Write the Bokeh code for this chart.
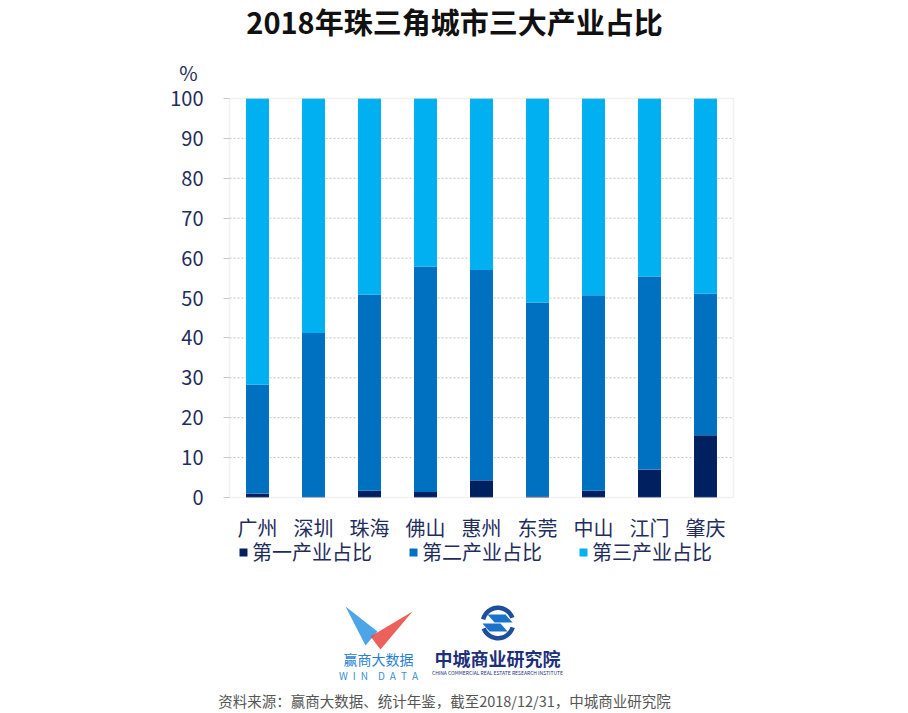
import math
from bokeh.plotting import figure
from bokeh.models import (FactorRange, Range1d, FixedTicker, Legend, LegendItem,
                          Label, ColumnDataSource, PolyAnnotation, BoxAnnotation,
                          LinearAxis, CategoricalAxis)
from bokeh.embed import file_html
from bokeh.resources import INLINE

# ---------------- data ----------------
cities = ["广州", "深圳", "珠海", "佛山", "惠州", "东莞", "中山", "江门", "肇庆"]
primary = [0.98, 0.1, 1.7, 1.4, 4.3, 0.3, 1.7, 7.0, 15.6]
secondary = [27.3, 41.1, 49.2, 56.5, 52.7, 48.6, 49.0, 48.4, 35.5]
tertiary = [71.7, 58.8, 49.1, 42.1, 43.0, 51.1, 49.3, 44.6, 48.9]
series_names = ["第一产业占比", "第二产业占比", "第三产业占比"]
y_ticks = list(range(0, 101, 10))

title_text = "2018年珠三角城市三大产业占比"
unit_text = "%"
source_text = "资料来源：赢商大数据、统计年鉴，截至2018/12/31，中城商业研究院"

# ---------------- styles / layout ----------------
FONT = "Noto Sans CJK SC"
NAVY = "#1f2d5c"
colors = ["#002060", "#0070C0", "#00B0F0"]
GRAY = "#d0d0d0"

W, H = 900, 711
CH_L, CH_R, CH_T, CH_B = 229, 733, 98, 497     # chart box on the page
NCAT = len(cities)
UX = (CH_R - CH_L) / NCAT
UY = (CH_B - CH_T) / 100.0
BL = int(round(CH_L + CH_R - W))                # symmetric frame around chart box
PAD = (CH_L - BL) / UX

def dx(X):
    return (X - CH_L) / UX
def dy(Y):
    return (CH_B - Y) / UY

src = ColumnDataSource(dict(city=cities, p1=primary, p2=secondary, p3=tertiary))

p = figure(x_range=FactorRange(*cities, range_padding=PAD, range_padding_units="absolute"),
           y_range=Range1d(dy(H), dy(0)),
           width=W, height=H, output_backend="svg", toolbar_location=None,
           x_axis_location=None, y_axis_location=None,
           min_border_left=BL, min_border_right=0, min_border_top=0,
           min_border_bottom=0)
p.background_fill_color = "white"
p.border_fill_color = "white"
p.outline_line_color = None
p.xgrid.grid_line_color = None
p.ygrid.grid_line_color = None

# dotted grid lines across the chart box, at the y ticks
gsrc = ColumnDataSource(dict(y=y_ticks[1:-1]))
p.segment(x0=0, x1=NCAT, y0="y", y1="y", source=gsrc, line_color="#c4c4c4",
          line_dash="2 2", line_width=1)

rs = p.vbar_stack(["p1", "p2", "p3"], x="city", width=0.41, source=src,
                  fill_color=colors, line_color=None)

# chart box
p.add_layout(BoxAnnotation(left=0, right=NCAT, bottom=0, top=100, fill_alpha=0,
                           line_color=GRAY, line_width=1.5))

# axes
yax = LinearAxis(fixed_location=0, bounds=(0, 100), ticker=FixedTicker(ticks=y_ticks))
yax.major_label_text_font = FONT
yax.major_label_text_font_size = "20px"
yax.major_label_text_color = NAVY
yax.axis_line_color = None
yax.major_tick_line_color = "#c8c8c8"
yax.major_tick_out = 6
yax.major_tick_in = 0
yax.minor_tick_line_color = None
yax.major_label_standoff = 20
p.add_layout(yax, "left")

xax = CategoricalAxis(fixed_location=0)
xax.major_label_text_font = FONT
xax.major_label_text_font_size = "20px"
xax.major_label_text_color = NAVY
xax.axis_line_color = None
xax.major_tick_line_color = None
xax.minor_tick_line_color = None
xax.major_label_standoff = 9
p.add_layout(xax, "below")

# legend below the chart box
items = [LegendItem(label=n, renderers=[r]) for n, r in zip(series_names, rs)]
legend = Legend(items=items, orientation="horizontal",
                location=(238 - BL, H - 566),
                glyph_width=10, glyph_height=10, label_text_font=FONT,
                label_text_font_size="20px", label_text_color=NAVY,
                label_standoff=4, spacing=36, padding=6, margin=0,
                border_line_color=None, background_fill_alpha=0,
                label_height=20)
p.add_layout(legend, "center")

def label(X, Y, text, size, color, bold=False, align="center"):
    p.add_layout(Label(x=dx(X), y=dy(Y), text=text, text_font=FONT,
                       text_font_size=size, text_color=color,
                       text_font_style="bold" if bold else "normal",
                       text_align=align, text_baseline="middle"))

def poly(pts, color, alpha=1.0):
    p.add_layout(PolyAnnotation(xs=[dx(a) for a, b in pts], ys=[dy(b) for a, b in pts],
                                fill_color=color, fill_alpha=alpha,
                                line_color=None))

# title and unit
label(454, 20, title_text, "29px", "#111111", bold=True)
label(188, 72, unit_text, "20px", NAVY)

# WIN DATA logo
poly([(345, 606), (377, 631), (365, 645)], "#3a9be6", 0.9)
poly([(412, 611), (370, 636), (380, 649)], "#e8453f", 0.85)
label(378, 658, "赢商大数据", "14px", "#2b7fd0")
label(378, 675, "W\u2002I\u2002N\u2003D\u2002A\u2002T\u2002A", "10px", "#3a8fd6")

# research institute logo
def ring(cx, cy, r0, r1, a0, a1, n=24):
    outer = [(cx + r1 * math.cos(a0 + (a1 - a0) * i / n), cy - r1 * math.sin(a0 + (a1 - a0) * i / n)) for i in range(n + 1)]
    inner = [(cx + r0 * math.cos(a1 - (a1 - a0) * i / n), cy - r0 * math.sin(a1 - (a1 - a0) * i / n)) for i in range(n + 1)]
    return outer + inner

poly(ring(497.5, 622.5, 13, 17.5, 0.35, 2.9), "#1f4e9c")
poly(ring(497.5, 622.5, 13, 17.5, 3.5, 6.0), "#1f4e9c")
poly([(487, 614), (505, 614), (512, 622), (494, 622)], "#1a73c8")
poly([(482, 623), (500, 623), (507, 631), (489, 631)], "#1a73c8")
label(497, 657, "中城商业研究院", "18px", "#1d2f7a", bold=True)
label(497, 672, "CHINA COMMERCIAL REAL ESTATE RESEARCH INSTITUTE", "5px", "#1d2f7a")

# source footer
label(444, 700, source_text, "14.5px", "#555555")

open("out.html", "w").write(file_html(p, INLINE))
